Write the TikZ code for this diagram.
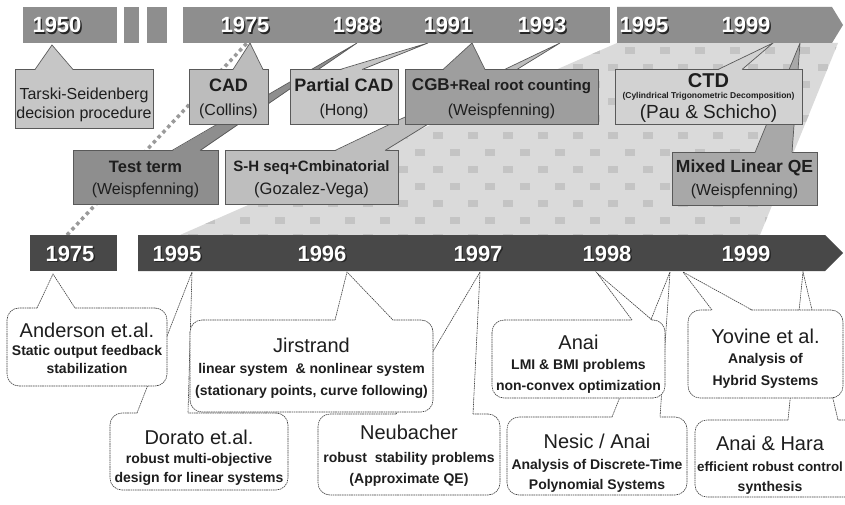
\documentclass[tikz,border=0pt]{standalone}
\usepackage{fontspec}
\setmainfont{Liberation Sans}
\usetikzlibrary{calc}
\definecolor{topbar}{HTML}{8E8E8E}
\definecolor{botbar}{HTML}{484848}
\definecolor{regbg}{HTML}{DADADA}
\definecolor{regdot}{HTML}{C4C4C4}
\definecolor{cTarski}{HTML}{C6C6C6}
\definecolor{cCAD}{HTML}{BCBCBC}
\definecolor{cPCAD}{HTML}{C6C6C6}
\definecolor{cCGB}{HTML}{9E9E9E}
\definecolor{cCTD}{HTML}{D2D2D2}
\definecolor{cTest}{HTML}{8E8E8E}
\definecolor{cSH}{HTML}{BEBEBE}
\definecolor{cMixed}{HTML}{A8A8A8}
\definecolor{txt}{HTML}{1E1E1E}
\definecolor{dotc}{HTML}{9A9A9A}
\newcommand{\yeartext}[1]{\makebox[0pt][l]{\hspace{1.3pt}\raisebox{-1.3pt}{\color{black!85}#1}}{\color{white}#1}}
\begin{document}
\begin{tikzpicture}[x=1pt,y=-1pt,
  tbox/.style={draw=black!65,line width=0.7pt,inner sep=0pt},
  tedge/.style={draw=black!65,line width=0.7pt},
  bbox/.style={draw=black!75,line width=0.6pt,dash pattern=on 1.6pt off 0.7pt,rounded corners=12pt,fill=white,inner sep=0pt},
  bedge/.style={draw=black!75,line width=0.6pt,dash pattern=on 1.6pt off 0.7pt},
  tl/.style={anchor=base,inner sep=0pt,text=txt},
  yr/.style={anchor=base,inner sep=0pt,font=\bfseries\fontsize{22}{22}\selectfont},
  nm/.style={tl,font=\fontsize{20}{20}\selectfont},
  sb/.style={tl,font=\bfseries\fontsize{14}{14}\selectfont},
  tn/.style={tl,font=\fontsize{16}{16}\selectfont},
  dotline/.style={draw=dotc,line width=3.5pt,dash pattern=on 3.5pt off 3.5pt}]
\useasboundingbox (0,0) rectangle (845,505);
\fill[white] (0,0) rectangle (845,505);

% ---------- zoom region 1995-1999 ----------
\begin{scope}
\clip (617,43) -- (838,43) -- (760,235) -- (180,235) -- cycle;
\fill[regbg] (0,0) rectangle (845,505);
\foreach \j in {0,...,11}{
  \pgfmathsetmacro\yy{47+17*\j}
  \pgfmathsetmacro\xo{mod(\j,2)*17.5}
  \foreach \i in {0,...,20}{
    \fill[regdot] ({170+\xo+35*\i},\yy) rectangle ++(10,7);
  }
}
\end{scope}

% ---------- dotted line 1975 -> 1975 ----------
\coordinate (dotA) at (67,235);
\coordinate (dotB) at (247,43);
\draw[dotline] (dotA) -- (dotB);

% ---------- second row ----------
\node[tbox,fill=cTest,minimum width=145pt,minimum height=54pt] (test) at (145.5,177) {};
\coordinate (testP) at (357,43);
\fill[cTest] (testP) -- (172,151) -- (200,151) -- cycle;
\draw[tedge] (172,150.5) -- (testP) -- (200,150.5);
\node[tl,font=\bfseries\fontsize{16.5}{16.5}\selectfont] (testT1) at (145.5,172) {Test term};
\node[tn] (testT2) at (145.5,194) {(Weispfenning)};

\node[tbox,fill=cSH,minimum width=173pt,minimum height=54pt] (sh) at (311.5,177) {};
\coordinate (shP) at (560,43);
\fill[cSH] (shP) -- (335,151) -- (385,151) -- cycle;
\draw[tedge] (335,150.5) -- (shP) -- (385,150.5);
\node[tl,font=\bfseries\fontsize{15}{15}\selectfont] (shT1) at (311.5,171.5) {S-H seq+Cmbinatorial};
\node[tl,font=\fontsize{16.5}{16.5}\selectfont] (shT2) at (311.5,194) {(Gozalez-Vega)};

\node[tbox,fill=cMixed,minimum width=145pt,minimum height=53pt] (mixed) at (744.5,178.5) {};
\coordinate (mixedP) at (800,43);
\fill[cMixed] (mixedP) -- (755,153) -- (792,153) -- cycle;
\draw[tedge] (755,152.5) -- (mixedP) -- (792,152.5);
\node[tl,font=\bfseries\fontsize{17.5}{17.5}\selectfont] (mixedT1) at (744.5,173) {Mixed Linear QE};
\node[tn] (mixedT2) at (744.5,195) {(Weispfenning)};

% ---------- first row ----------
\node[tbox,fill=cTarski,minimum width=138pt,minimum height=59pt] (tarski) at (84,98.5) {};
\coordinate (tarskiP) at (52,45);
\fill[cTarski] (tarskiP) -- (35,70) -- (73,70) -- cycle;
\draw[tedge] (35,69.5) -- (tarskiP) -- (73,69.5);
\node[tn] (tarskiT1) at (84,100) {Tarski-Seidenberg};
\node[tn] (tarskiT2) at (84,119) {decision procedure};

\node[tbox,fill=cCAD,minimum width=79pt,minimum height=55pt] (cad) at (228.5,96.5) {};
\coordinate (cadP) at (250,43);
\fill[cCAD] (cadP) -- (233,70) -- (263,70) -- cycle;
\draw[tedge] (233,69.5) -- (cadP) -- (263,69.5);
\node[tl,font=\bfseries\fontsize{18}{18}\selectfont] (cadT1) at (228.5,91.5) {CAD};
\node[tn] (cadT2) at (228.5,116) {(Collins)};

\node[tbox,fill=cPCAD,minimum width=108pt,minimum height=55pt] (pcad) at (344,96.5) {};
\coordinate (pcadP) at (428,43);
\fill[cPCAD] (pcadP) -- (340,70) -- (362,70) -- cycle;
\draw[tedge] (340,69.5) -- (pcadP) -- (362,69.5);
\node[tl,font=\bfseries\fontsize{18}{18}\selectfont] (pcadT1) at (344,91.5) {Partial CAD};
\node[tn] (pcadT2) at (344,116) {(Hong)};

\node[tbox,fill=cCGB,minimum width=193pt,minimum height=55pt] (cgb) at (501.5,96.5) {};
\coordinate (cgbP) at (472,43);
\fill[cCGB] (cgbP) -- (443,70) -- (485,70) -- cycle;
\draw[tedge] (443,69.5) -- (cgbP) -- (485,69.5);
\node[tl,font=\bfseries\fontsize{15}{15}\selectfont] (cgbT1) at (501.5,90.5) {{\fontsize{17}{17}\selectfont CGB}+Real root counting};
\node[tn] (cgbT2) at (501.5,116) {(Weispfenning)};

\node[tbox,fill=cCTD,minimum width=187pt,minimum height=55pt] (ctd) at (708.5,96.5) {};
\coordinate (ctdP) at (773,43);
\fill[cCTD] (ctdP) -- (718,70) -- (742,70) -- cycle;
\draw[tedge] (718,69.5) -- (ctdP) -- (742,69.5);
\node[tl,font=\bfseries\fontsize{20}{20}\selectfont] (ctdT1) at (708.5,88) {CTD};
\node[tl,font=\bfseries\fontsize{8.5}{8.5}\selectfont] (ctdT2) at (708.5,99) {(Cylindrical Trigonometric Decomposition)};
\node[tl,font=\fontsize{19}{19}\selectfont] (ctdT3) at (708.5,119) {(Pau \& Schicho)};

% ---------- top bar ----------
\fill[topbar] (23,7) rectangle (117,43);
\fill[topbar] (124,7) rectangle (139,43);
\fill[topbar] (147,7) rectangle (167,43);
\fill[topbar] (183,7) rectangle (610,43);
\fill[topbar] (617,7) -- (832,7) -- (843,25) -- (832,43) -- (617,43) -- cycle;
\node[yr] (t1950) at (57,33) {\yeartext{1950}};
\node[yr] (t1975) at (245,33) {\yeartext{1975}};
\node[yr] (t1988) at (357,33) {\yeartext{1988}};
\node[yr] (t1991) at (448,33) {\yeartext{1991}};
\node[yr] (t1993) at (542,33) {\yeartext{1993}};
\node[yr] (t1995) at (644,33) {\yeartext{1995}};
\node[yr] (t1999) at (746,33) {\yeartext{1999}};

% ---------- bottom second row (drawn first) ----------
\node[bbox,minimum width=178pt,minimum height=77pt] (dorato) at (199,451.5) {};
\coordinate (doratoP) at (192,272);
\fill[white] (doratoP) -- (137,414) -- (188,414) -- cycle;
\draw[bedge] (137,413) -- (doratoP) -- (188,413);
\node[nm] (doratoT1) at (199,444) {Dorato et.al.};
\node[sb] (doratoT2) at (199,463) {robust multi-objective};
\node[sb] (doratoT3) at (199,482) {design for linear systems};

\node[bbox,minimum width=182pt,minimum height=81pt] (neub) at (409,454.5) {};
\coordinate (neubP) at (480,272);
\fill[white] (neubP) -- (396,415) -- (473,415) -- cycle;
\draw[bedge] (396,414) -- (neubP) -- (473,414);
\node[nm] (neubT1) at (409,439) {Neubacher};
\node[sb] (neubT2) at (409,462) {robust\ \ stability problems};
\node[sb] (neubT3) at (409,483) {(Approximate QE)};

\node[bbox,minimum width=180pt,minimum height=78pt] (nesic) at (597,456) {};
\coordinate (nesicP) at (670,272);
\fill[white] (nesicP) -- (612,418) -- (660,418) -- cycle;
\draw[bedge] (612,417) -- (nesicP) -- (660,417);
\node[nm] (nesicT1) at (597,448) {Nesic / Anai};
\node[sb] (nesicT2) at (597,469) {Analysis of Discrete-Time};
\node[sb] (nesicT3) at (597,489) {Polynomial Systems};

\node[bbox,minimum width=167pt,minimum height=77pt] (hara) at (778.5,458.5) {};
\coordinate (haraP) at (803,272);
\fill[white] (haraP) -- (788,421) -- (838,421) -- cycle;
\draw[bedge] (788,420) -- (haraP) -- (838,420);
\node[nm] (haraT1) at (770,450) {Anai \& Hara};
\node[tl,font=\bfseries\fontsize{13.4}{13.4}\selectfont] (haraT2) at (770,471) {efficient robust control};
\node[sb] (haraT3) at (770,491) {synthesis};

% ---------- bottom first row ----------
\node[bbox,minimum width=160pt,minimum height=78pt] (anderson) at (87,347) {};
\coordinate (andersonP) at (53,274);
\fill[white] (andersonP) -- (37,309) -- (75,309) -- cycle;
\draw[bedge] (37,308) -- (andersonP) -- (75,308);
\node[nm] (andersonT1) at (87,337) {Anderson et.al.};
\node[sb] (andersonT2) at (87,355) {Static output feedback};
\node[sb] (andersonT3) at (87,373) {stabilization};

\node[bbox,minimum width=243pt,minimum height=92pt] (jir) at (311.5,366) {};
\coordinate (jirP) at (347,272);
\fill[white] (jirP) -- (335,321) -- (393,321) -- cycle;
\draw[bedge] (335,320) -- (jirP) -- (393,320);
\node[nm] (jirT1) at (311.5,352) {Jirstrand};
\node[sb] (jirT2) at (311.5,373) {linear system\ \ \& nonlinear system};
\node[sb] (jirT3) at (311.5,395) {(stationary points, curve following)};

\node[bbox,minimum width=173pt,minimum height=78pt] (anai) at (578.5,359) {};
\coordinate (anaiP) at (597,273);
\fill[white] (anaiP) -- (632,321) -- (652,321) -- cycle;
\draw[bedge] (632,320) -- (anaiP) -- (652,320);
\node[nm] (anaiT1) at (578.5,349) {Anai};
\node[sb] (anaiT2) at (578.5,369) {LMI \& BMI problems};
\node[sb] (anaiT3) at (578.5,390) {non-convex optimization};

\node[bbox,minimum width=155pt,minimum height=88pt] (yovine) at (765.5,354) {};
\coordinate (yovineP) at (683,272);
\fill[white] (yovineP) -- (712,311) -- (752,311) -- cycle;
\draw[bedge] (712,310) -- (yovineP) -- (752,310);
\node[nm] (yovineT1) at (765.5,343) {Yovine et al.};
\node[sb] (yovineT2) at (765.5,363) {Analysis of};
\node[sb] (yovineT3) at (765.5,385) {Hybrid Systems};

% ---------- bottom bar ----------
\fill[botbar] (30,235) rectangle (117,271);
\fill[botbar] (138,235) -- (825,235) -- (843,253) -- (825,271) -- (138,271) -- cycle;
\node[yr] (b1975) at (70,261) {\yeartext{1975}};
\node[yr] (b1995) at (177,261) {\yeartext{1995}};
\node[yr] (b1996) at (322,261) {\yeartext{1996}};
\node[yr] (b1997) at (478,261) {\yeartext{1997}};
\node[yr] (b1998) at (607,261) {\yeartext{1998}};
\node[yr] (b1999) at (746,261) {\yeartext{1999}};
\end{tikzpicture}
\end{document}
